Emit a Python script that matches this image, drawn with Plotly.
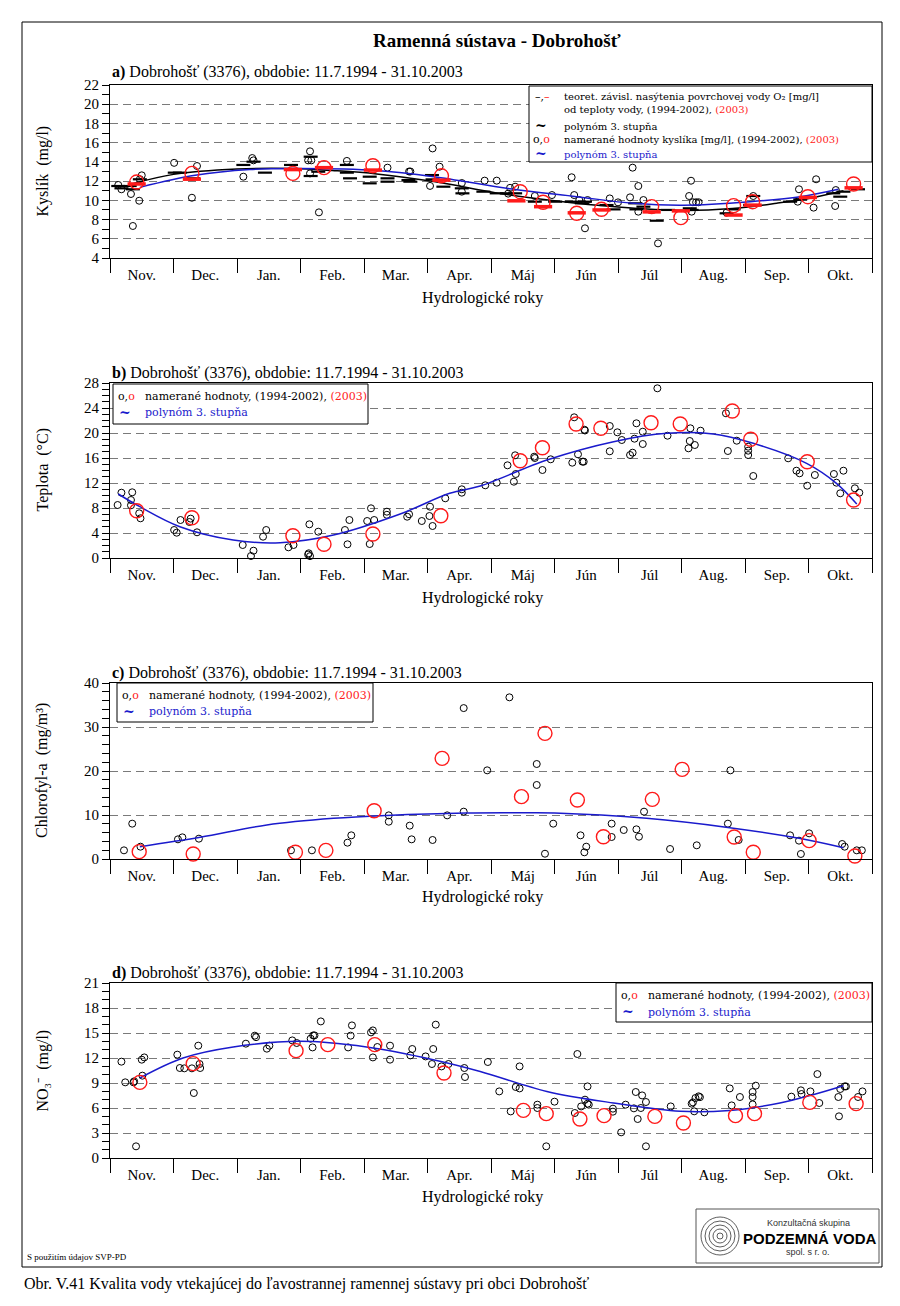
import plotly.graph_objects as go

W, H = 900, 1306
SERIF = "Liberation Serif"
LEGF = "DejaVu Serif"
SANS = "Liberation Sans"
RED = "#ff1a1a"
BLUE = "#1a1acc"

months = ["Nov.", "Dec.", "Jan.", "Feb.", "Mar.", "Apr.", "Máj", "Jún", "Júl", "Aug.", "Sep.", "Okt."]

# ---------------- Panel a: Kyslik (mg/l) ----------------
a_obs_x = [0.13, 0.18, 0.33, 0.36, 0.46, 0.47, 0.50, 1.01, 1.29, 1.37, 2.10, 2.24, 2.26,
           3.12, 3.15, 3.15, 3.17, 3.29, 3.73, 4.37, 4.71, 4.73, 5.04, 5.08, 5.19, 5.54, 5.54,
           5.90, 6.09, 6.27, 6.30, 6.38, 6.69, 6.96, 7.27, 7.31, 7.39, 7.48, 7.52, 7.87, 8.00,
           8.19, 8.23, 8.32, 8.32, 8.40, 8.63, 9.12, 9.15, 9.16, 9.18, 9.23, 9.27, 9.71, 10.13,
           10.83, 10.85, 11.08, 11.12, 11.42, 11.43]
a_obs_y = [11.6, 11.15, 10.66, 7.33, 9.96, 12.2, 12.6, 13.9, 10.27, 13.57, 12.46, 14.4, 14.16,
           14.16, 15.1, 12.8, 14.16, 8.75, 14.1, 13.4, 13.0, 13.0, 11.5, 15.4, 13.5, 11.8, 10.9,
           12.05, 12.05, 10.7, 11.3, 11.42, 10.45, 10.55, 12.4, 10.55, 10.03, 7.09, 10.03, 10.2, 9.79,
           10.31, 13.4, 11.49, 8.82, 10.03, 5.52, 10.45, 12.04, 8.82, 9.8, 9.8, 9.8, 8.72, 10.45,
           9.86, 11.15, 9.24, 12.19, 9.41, 11.07]
a_2003_x = [0.42, 1.29, 2.88, 3.37, 4.14, 5.22, 6.46, 6.82, 7.35, 7.74, 8.53, 8.99, 9.82, 10.12, 10.99, 11.71]
a_2003_y = [11.9, 12.8, 12.8, 13.4, 13.6, 12.55, 10.9, 9.8, 8.65, 9.07, 9.35, 8.2, 9.45, 9.86, 10.38, 11.7]
a_sat_x = [0.13, 0.18, 0.31, 0.36, 0.47, 1.02, 1.10, 1.31, 2.10, 2.26, 2.44, 2.85, 3.16, 3.16, 3.28,
           3.73, 3.73, 3.78, 4.09, 4.09, 4.37, 4.37, 4.70, 4.73, 5.07, 5.08, 5.25, 5.54, 5.55, 5.88,
           6.09, 6.25, 6.38, 6.69, 7.01, 7.27, 7.43, 7.48, 7.82, 7.93, 8.27, 8.29, 8.40, 8.61, 8.79,
           9.13, 9.16, 9.71, 9.82, 10.08, 10.13, 10.71, 10.87, 11.39, 11.50, 11.55, 11.78]
a_sat_y = [11.49, 11.25, 11.49, 11.15, 12.19, 12.88, 12.88, 12.29, 13.68, 14.02, 12.88, 13.68, 14.54, 12.53, 12.98,
           13.68, 12.88, 12.29, 12.46, 11.77, 12.29, 11.94, 12.11, 11.94, 12.63, 12.18, 11.42, 11.25, 10.73, 10.9,
           10.73, 10.73, 10.73, 9.86, 9.86, 9.86, 9.69, 9.86, 9.51, 9.06, 9.69, 9.06, 9.34, 7.88, 9.0,
           9.17, 9.0, 8.65, 9.06, 9.51, 10.45, 9.86, 10.1, 10.73, 10.38, 10.9, 11.15]
a_sat2003_x = [0.42, 1.29, 2.88, 3.37, 4.14, 5.22, 6.40, 6.82, 7.35, 7.74, 8.53, 8.99, 9.82, 10.12, 10.99, 11.71]
a_sat2003_y = [11.7, 12.2, 13.2, 13.4, 13.15, 12.1, 9.95, 9.34, 8.7, 9.0, 8.8, 8.9, 8.47, 9.5, 10.3, 11.3]
a_satfit_x = [0.37, 1.0, 2.0, 2.9, 3.5, 4.2, 5.1, 6.1, 7.0, 8.0, 9.0, 9.8, 10.5, 11.0, 11.55]
a_satfit_y = [11.75, 12.7, 13.25, 13.3, 13.1, 12.75, 11.95, 10.75, 9.95, 9.3, 8.95, 9.15, 9.7, 10.2, 11.0]
a_fit_x = [0.47, 1.34, 2.2, 3.0, 4.2, 5.1, 6.3, 7.35, 8.24, 9.03, 10.08, 10.87, 11.47]
a_fit_y = [11.35, 12.6, 13.2, 13.3, 13.1, 12.46, 11.2, 10.38, 9.69, 9.5, 9.86, 10.38, 11.15]

# ---------------- Panel b: Teplota (°C) ----------------
b_obs_x = [0.12, 0.18, 0.33, 0.35, 0.33, 0.46, 0.48, 1.01, 1.05, 1.11, 1.25, 1.27, 1.37, 2.09, 2.22,
           2.26, 2.41, 2.46, 2.81, 2.89, 3.14, 3.12, 3.15, 3.13, 3.28, 3.70, 3.74, 3.77, 4.05, 4.09,
           4.11, 4.16, 4.36, 4.36, 4.68, 4.71, 4.91, 5.03, 5.04, 5.08, 5.28, 5.54, 5.54, 5.91, 6.09,
           6.26, 6.36, 6.38, 6.39, 6.68, 6.69, 6.81, 6.94, 7.28, 7.31, 7.37, 7.44, 7.46, 7.47, 7.48,
           7.87, 7.87, 7.99, 8.06, 8.19, 8.23, 8.26, 8.29, 8.39, 8.39, 8.62, 8.78, 9.11, 9.13, 9.14,
           9.21, 9.30, 9.70, 9.73, 9.87, 10.05, 10.05, 10.05, 10.13, 10.68, 10.81, 10.86, 10.98, 11.10,
           11.40, 11.44, 11.50, 11.55, 11.73, 11.80]
b_obs_y = [8.48, 10.45, 9.28, 10.51, 8.43, 7.15, 6.35, 4.48, 4.05, 6.08, 5.76, 6.3, 4.11, 2.08, 0.32,
           1.17, 3.41, 4.48, 1.71, 2.08, 5.39, 0.55, 0.3, 0.75, 4.21, 4.48, 2.19, 6.08, 5.92, 2.24,
           7.95, 6.08, 7.41, 6.91, 6.61, 7.0, 5.92, 6.72, 8.21, 5.12, 9.55, 10.99, 10.45, 11.63, 12.05,
           14.83, 12.21, 16.43, 13.44, 16.21, 16.0, 14.08, 15.79, 15.25, 22.51, 16.59, 15.41, 15.41, 20.53, 20.4,
           21.12, 17.07, 20.11, 18.88, 16.48, 16.85, 19.09, 21.55, 18.24, 20.21, 27.15, 19.57, 17.55, 18.72, 20.75,
           18.08, 20.37, 23.15, 17.12, 18.77, 17.81, 17.17, 16.48, 13.12, 15.95, 13.97, 13.55, 11.57, 13.28,
           13.44, 12.05, 10.35, 13.97, 11.15, 10.45]
b_2003_x = [0.42, 1.29, 2.88, 3.37, 4.14, 5.21, 6.46, 6.81, 7.34, 7.73, 8.52, 8.98, 9.80, 10.09, 10.98, 11.71]
b_2003_y = [7.57, 6.45, 3.57, 2.19, 3.84, 6.77, 15.57, 17.65, 21.44, 20.75, 21.65, 21.44, 23.52, 18.99, 15.41, 9.28]
b_fit_x = [0.13, 0.47, 1.1, 1.94, 2.68, 3.52, 4.57, 5.35, 5.83, 6.88, 7.93, 8.77, 9.5, 10.13, 10.97, 11.44, 11.76]
b_fit_y = [10.24, 8.21, 5.01, 2.88, 2.45, 3.68, 7.04, 10.35, 11.52, 15.68, 18.61, 19.95, 19.84, 18.35, 15.15, 11.95, 8.64]

# ---------------- Panel c: Chlorofyl-a (mg/m3) ----------------
c_obs_x = [0.22, 0.35, 0.48, 1.07, 1.14, 1.40, 2.85, 3.18, 3.74, 3.80, 4.39, 4.39, 4.72, 4.75, 5.08,
           5.31, 5.57, 5.57, 5.94, 6.29, 6.72, 6.72, 6.85, 6.98, 7.41, 7.47, 7.50, 7.90, 7.90, 8.09,
           8.29, 8.33, 8.41, 8.82, 9.24, 9.73, 9.77, 9.90, 10.71, 10.85, 10.88, 11.01, 11.53, 11.57,
           11.76, 11.84]
c_obs_y = [1.97, 8.03, 2.8, 4.47, 4.92, 4.62, 1.97, 1.97, 3.71, 5.38, 9.92, 8.48, 7.58, 4.47, 4.32,
           9.92, 34.3, 10.76, 20.15, 36.74, 21.59, 16.82, 1.2, 8.03, 5.38, 1.52, 2.8, 8.03, 5.0, 6.59,
           6.74, 5.07, 10.76, 2.27, 3.11, 8.03, 20.15, 4.32, 5.38, 4.17, 1.14, 5.83, 3.41, 2.8,
           1.97, 1.97]
c_2003_x = [0.46, 1.31, 2.92, 3.40, 4.16, 5.23, 6.48, 6.85, 7.36, 7.77, 8.54, 9.01, 9.83, 10.13, 11.01, 11.73]
c_2003_y = [1.67, 1.14, 1.52, 1.97, 10.98, 22.88, 14.17, 28.56, 13.41, 5.07, 13.56, 20.38, 5.0, 1.52, 4.17, 0.68]
c_fit_x = [0.47, 1.42, 2.47, 3.52, 4.36, 5.6, 6.5, 7.0, 8.45, 9.76, 10.85, 11.55]
c_fit_y = [2.8, 4.92, 7.73, 9.24, 9.9, 10.45, 10.5, 10.45, 9.24, 7.12, 4.7, 2.56]

# ---------------- Panel d: NO3- (mg/l) ----------------
d_obs_x = [0.18, 0.24, 0.37, 0.38, 0.41, 0.50, 0.54, 0.51, 1.06, 1.10, 1.17, 1.32, 1.29, 1.39, 1.41,
           1.42, 2.14, 2.28, 2.30, 2.47, 2.51, 2.87, 2.94, 3.16, 3.20, 3.22, 3.19, 3.32, 3.75, 3.79,
           3.81, 4.11, 4.14, 4.14, 4.21, 4.41, 4.41, 4.73, 4.76, 4.97, 5.07, 5.09, 5.13, 5.22, 5.33,
           5.58, 5.59, 5.95, 6.13, 6.31, 6.39, 6.45, 6.45, 6.73, 6.73, 6.87, 7.00, 7.32, 7.36, 7.42,
           7.48, 7.52, 7.52, 7.54, 7.92, 7.92, 8.05, 8.12, 8.25, 8.28, 8.31, 8.36, 8.38, 8.44, 8.44,
           8.83, 9.16, 9.18, 9.22, 9.27, 9.29, 9.20, 9.36, 9.76, 9.79, 9.92, 10.12, 10.12, 10.12, 10.17,
           10.73, 10.88, 10.89, 11.03, 11.14, 11.17, 11.47, 11.48, 11.50, 11.57, 11.59, 11.78, 11.85]
d_obs_y = [11.56, 9.08, 9.08, 9.2, 1.4, 11.8, 12.07, 9.88, 12.4, 10.8, 10.76, 7.8, 10.76, 13.48, 11.28,
           10.8, 13.72, 14.68, 14.5, 13.12, 13.48, 14.11, 13.8, 14.32, 14.71, 14.71, 13.27, 16.39, 13.27, 14.68,
           15.91, 15.07, 15.31, 12.07, 13.32, 13.48, 11.8, 12.31, 13.08, 12.19, 11.28, 13.08, 16.0, 10.99, 11.28,
           10.8, 9.72, 11.52, 7.99, 5.59, 8.52, 10.99, 8.35, 6.4, 6.0, 1.4, 6.76, 5.4, 12.48, 6.19,
           7.0, 8.59, 6.52, 6.4, 5.92, 5.56, 3.08, 6.4, 5.96, 7.92, 4.68, 6.0, 7.51, 6.72, 1.4,
           6.19, 6.52, 6.67, 7.2, 7.4, 7.3, 5.6, 5.48, 8.35, 6.31, 7.32, 7.92, 7.32, 6.43, 8.68,
           7.36, 8.12, 7.68, 7.99, 10.07, 6.6, 7.32, 5.0, 8.28, 8.59, 8.59, 7.32, 7.99]
d_2003_x = [0.47, 1.31, 2.93, 3.43, 4.17, 5.26, 6.51, 6.87, 7.40, 7.78, 8.58, 9.03, 9.85, 10.15, 11.02, 11.75]
d_2003_y = [9.08, 11.32, 12.88, 13.6, 13.6, 10.2, 5.71, 5.32, 4.68, 5.08, 4.99, 4.2, 5.08, 5.32, 6.67, 6.52]
d_fit_x = [0.47, 1.15, 1.94, 2.99, 4.04, 5.09, 5.83, 6.88, 7.93, 8.98, 9.76, 10.55, 11.07, 11.55]
d_fit_y = [9.6, 12.0, 13.32, 14.0, 13.32, 11.8, 10.39, 7.99, 6.6, 5.6, 5.71, 6.6, 7.6, 8.68]

# axis settings per panel: (range, dtick, minor dtick, pixel top, pixel bottom)
panel_axes = [
    ([4, 22], 2, 1, 85, 258),
    ([0, 28], 4, 1, 383, 558),
    ([0, 40], 10, 2, 683, 859),
    ([0, 21], 3, 1, 983, 1158),
]
PLOT_L, PLOT_R = 110, 872


def px(x):
    return x / W


def py(y):
    return 1 - y / H


fig = go.Figure()


def obs(xs, ys, k):
    fig.add_trace(go.Scatter(x=xs, y=ys, mode="markers", xaxis=f"x{k}", yaxis=f"y{k}",
                             cliponaxis=False, hoverinfo="skip",
                             marker=dict(symbol="circle-open", size=7, color="black",
                                         line=dict(width=1, color="black"))))


def obs03(xs, ys, k):
    fig.add_trace(go.Scatter(x=xs, y=ys, mode="markers", xaxis=f"x{k}", yaxis=f"y{k}",
                             cliponaxis=False, hoverinfo="skip",
                             marker=dict(symbol="circle-open", size=14, color=RED,
                                         line=dict(width=1.4, color=RED))))


def fit(xs, ys, k, color=BLUE):
    fig.add_trace(go.Scatter(x=xs, y=ys, mode="lines", xaxis=f"x{k}", yaxis=f"y{k}",
                             hoverinfo="skip", line=dict(color=color, width=1.5, shape="spline", smoothing=1.0)))


def bars(xs, ys, k, color, size, width):
    fig.add_trace(go.Scatter(x=xs, y=ys, mode="markers", xaxis=f"x{k}", yaxis=f"y{k}",
                             cliponaxis=False, hoverinfo="skip",
                             marker=dict(symbol="line-ew", size=size, color=color,
                                         line=dict(width=width, color=color))))


# panel a
bars(a_sat_x, a_sat_y, "", "black", 10, 2.2)
obs(a_obs_x, a_obs_y, "")
fit(a_satfit_x, a_satfit_y, "", "black")
fit(a_fit_x, a_fit_y, "", BLUE)
obs03(a_2003_x, a_2003_y, "")
bars(a_sat2003_x, a_sat2003_y, "", RED, 13, 3.5)
# panel b
obs(b_obs_x, b_obs_y, "2")
fit(b_fit_x, b_fit_y, "2")
obs03(b_2003_x, b_2003_y, "2")
# panel c
obs(c_obs_x, c_obs_y, "3")
fit(c_fit_x, c_fit_y, "3")
obs03(c_2003_x, c_2003_y, "3")
# panel d
obs(d_obs_x, d_obs_y, "4")
fit(d_fit_x, d_fit_y, "4")
obs03(d_2003_x, d_2003_y, "4")

layout = dict(
    width=W, height=H, template="none", showlegend=False,
    margin=dict(l=0, r=0, t=0, b=0, pad=0),
    paper_bgcolor="white", plot_bgcolor="white",
    font=dict(family=SERIF, size=15, color="black"),
)

for i, (rng, dt, mdt, top, bot) in enumerate(panel_axes):
    k = "" if i == 0 else str(i + 1)
    layout[f"xaxis{k}"] = dict(
        domain=[px(PLOT_L), px(PLOT_R)], anchor=f"y{k}", range=[0, 12],
        tickmode="array", tickvals=[m + 0.5 for m in range(12)], ticktext=months,
        ticks="", showgrid=False, zeroline=False, automargin=False,
        showline=True, linecolor="black", linewidth=1, mirror=True,
        tickfont=dict(family=SERIF, size=15, color="black"),
        ticklabelstandoff=3,
        minor=dict(tickmode="array", tickvals=list(range(13)), ticks="outside",
                   ticklen=14, tickcolor="black", tickwidth=1, showgrid=False),
    )
    layout[f"yaxis{k}"] = dict(
        domain=[py(bot), py(top)], anchor=f"x{k}", range=rng,
        tick0=rng[0], dtick=dt, ticks="outside", ticklen=7, tickcolor="black", tickwidth=1,
        showgrid=True, gridcolor="#7a7a7a", gridwidth=1, griddash="8px,5px",
        zeroline=False, automargin=False,
        showline=True, linecolor="black", linewidth=1, mirror=True,
        tickfont=dict(family=SERIF, size=15, color="black"),
        minor=dict(dtick=mdt, ticks="outside", ticklen=7, tickcolor="black", tickwidth=1, showgrid=False),
    )

fig.update_layout(**layout)

anns = []


def ann(x, y, text, size=15, xanchor="left", family=SERIF, color="black", angle=0):
    anns.append(dict(x=px(x), y=py(y), xref="paper", yref="paper", text=text, showarrow=False,
                     xanchor=xanchor, yanchor="middle", textangle=angle,
                     font=dict(family=family, size=size, color=color)))


# main title
ann(497, 40, "<b>Ramenná sústava - Dobrohošť</b>", 19, "center")

titles_y = [72, 373, 673, 973]
letters = ["a)", "b)", "c)", "d)"]
xlab_y = [298, 598, 897, 1197]
ylab = ["Kyslík  (mg/l)", "Teplota  (°C)", "Chlorofyl-a  (mg/m³)", "NO₃⁻  (mg/l)"]
for i, (rng, dt, mdt, top, bot) in enumerate(panel_axes):
    ann(110, titles_y[i], f"<b>{letters[i]}</b> Dobrohošť (3376), obdobie: 11.7.1994 - 31.10.2003", 16)
    ann(483, xlab_y[i], "Hydrologické roky", 16, "center")
    ann(42, (top + bot) / 2, ylab[i], 16, "center", angle=-90)

# legend boxes
shapes = []


def box(x0, y0, x1, y1, width=1, fill="white", color="black"):
    shapes.append(dict(type="rect", xref="paper", yref="paper", x0=px(x0), x1=px(x1),
                       y0=py(y1), y1=py(y0), line=dict(color=color, width=width), fillcolor=fill, layer="above"))


red_span = lambda t: f"<span style='color:{RED}'>{t}</span>"

# legend a
box(529, 86, 872, 162)
ann(533, 96, "–," + red_span("–"), 11, family=LEGF)
ann(562, 96, "teoret. závisl. nasýtenia povrchovej vody O₂ [mg/l]", 10, family=LEGF)
ann(562, 110, "od teploty vody, (1994-2002), " + red_span("(2003)"), 10, family=LEGF)
ann(533, 125, "<b>~ </b>", 14, family=LEGF)
ann(562, 126, "polynóm 3. stupňa", 10, family=LEGF)
ann(531, 140, "o," + red_span("o"), 11, family=LEGF)
ann(562, 140, "namerané hodnoty kyslíka [mg/l], (1994-2002), " + red_span("(2003)"), 10, family=LEGF)
ann(533, 153, "<b>~ </b>", 14, family=LEGF, color=BLUE)
ann(562, 154, "polynóm 3. stupňa", 10, family=LEGF, color=BLUE)

# legends b, c, d
leg_boxes = [(113, 384, 368, 424), (117, 683, 373, 722), (616, 983, 872, 1022)]
for (x0, y0, x1, y1) in leg_boxes:
    box(x0, y0, x1, y1)
    l1 = y0 + 12.5
    l2 = y0 + 29
    ann(x0 + 3, l1, "o," + red_span("o"), 11, family=LEGF)
    ann(x0 + 30, l1, "namerané hodnoty, (1994-2002), " + red_span("(2003)"), 11, family=LEGF)
    ann(x0 + 4, l2 - 1, "<b>~ </b>", 14, family=LEGF, color=BLUE)
    ann(x0 + 30, l2, "polynóm 3. stupňa", 11, family=LEGF, color=BLUE)

# outer frame
box(22, 22, 882, 1267, width=1, fill="rgba(0,0,0,0)")
shapes[-1]["layer"] = "below"

# logo
box(696, 1209, 879, 1263, width=1, fill="white", color="#555555")
for r in [19, 15, 11, 7, 3]:
    shapes.append(dict(type="circle", xref="paper", yref="paper",
                       x0=px(720 - r), x1=px(720 + r), y0=py(1236 + r), y1=py(1236 - r),
                       line=dict(color="#333333", width=0.8), layer="above"))
ann(808, 1223, "Konzultačná skupina", 9, "center", family=SANS, color="#333333")
ann(810, 1238, "<b>PODZEMNÁ VODA</b>", 15, "center", family=SANS)
ann(808, 1252, "spol. s r. o.", 9, "center", family=SANS, color="#333333")

ann(25, 1257, "S použitím údajov SVP-PD", 9)
ann(22, 1284, "Obr. V.41 Kvalita vody vtekajúcej do ľavostrannej ramennej sústavy pri obci Dobrohošť", 16)

fig.update_layout(annotations=anns, shapes=shapes)

fig.write_html("out.html", config={"displayModeBar": False},
               post_script="document.body.style.margin='0px';")
